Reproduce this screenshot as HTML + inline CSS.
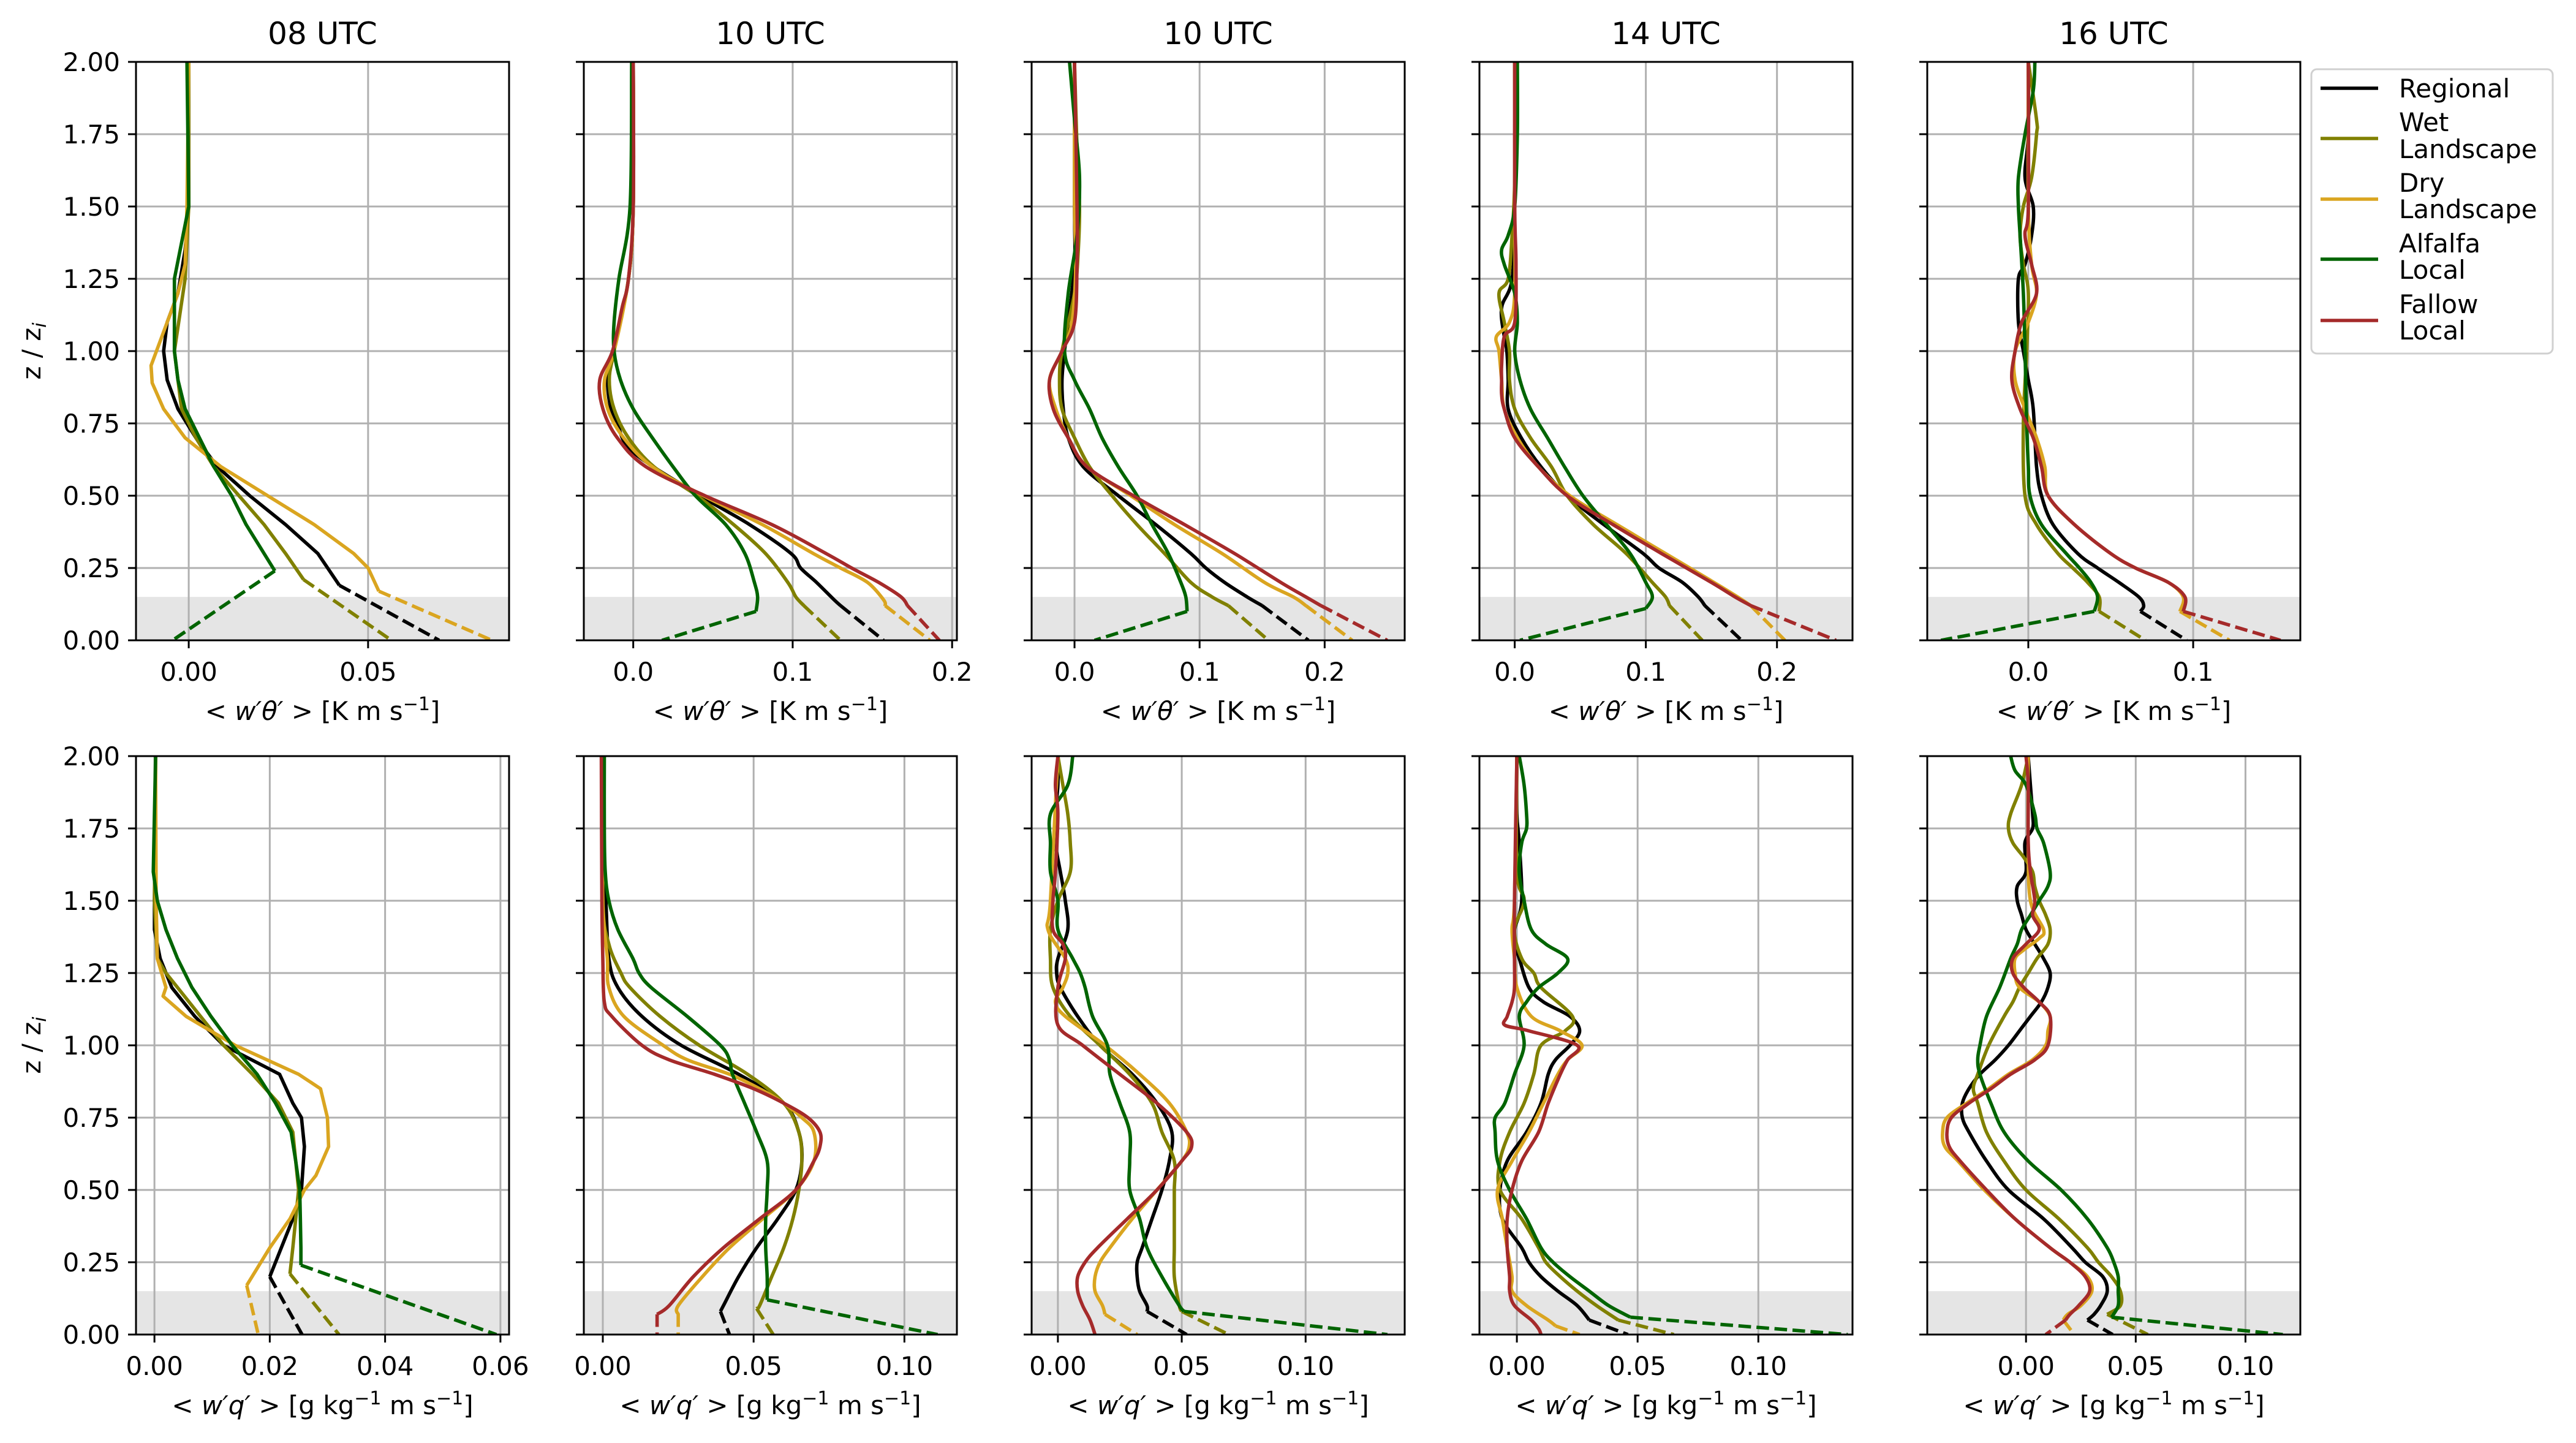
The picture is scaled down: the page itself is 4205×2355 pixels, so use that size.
<!DOCTYPE html>
<html><head><meta charset="utf-8">
<style>
html,body{margin:0;padding:0;background:#fff;}
svg{display:block;font-family:"DejaVu Sans","Liberation Sans",sans-serif;}
</style></head>
<body>
<svg id="fig" xmlns="http://www.w3.org/2000/svg" width="4205" height="2355" viewBox="0 0 4205 2355">
<rect x="0" y="0" width="4205" height="2355" fill="#fff"/>
<g id="legend">
  <rect x="3773" y="113" width="394" height="464" rx="9" fill="#fff" stroke="#d0d0d0" stroke-width="3"/>
  <g><line x1="3788" y1="144" x2="3882" y2="144" stroke="#000" stroke-width="5.6"/><text x="3916" y="159" font-size="42">Regional</text></g>
  <g><line x1="3788" y1="226" x2="3882" y2="226" stroke="#808000" stroke-width="5.6"/><text x="3916" y="214" font-size="42">Wet</text><text x="3916" y="258" font-size="42">Landscape</text></g>
  <g><line x1="3788" y1="325" x2="3882" y2="325" stroke="#daa520" stroke-width="5.6"/><text x="3916" y="313" font-size="42">Dry</text><text x="3916" y="356" font-size="42">Landscape</text></g>
  <g><line x1="3788" y1="423" x2="3882" y2="423" stroke="#006400" stroke-width="5.6"/><text x="3916" y="412" font-size="42">Alfalfa</text><text x="3916" y="455" font-size="42">Local</text></g>
  <g><line x1="3788" y1="523" x2="3882" y2="523" stroke="#a52a2a" stroke-width="5.6"/><text x="3916" y="511" font-size="42">Fallow</text><text x="3916" y="554" font-size="42">Local</text></g>
</g>
</svg>
<script>
// ---------- data ----------
const panelTitles = ["08 UTC","10 UTC","10 UTC","14 UTC","16 UTC"];
const yTicks = [0,0.25,0.5,0.75,1.0,1.25,1.5,1.75,2.0];
const shadeTop = 0.15;
const topXRanges = [[-0.0147,0.0893],[-0.031,0.203],[-0.0343,0.264],[-0.0269,0.2576],[-0.0613,0.165]];
const topXTicks = [[0,0.05],[0,0.1,0.2],[0,0.1,0.2],[0,0.1,0.2],[0,0.1]];
const topTickDigits = [2,1,1,1,1];
const botXRanges = [[-0.0032,0.0615],[-0.0063,0.1174],[-0.0106,0.140],[-0.0155,0.139],[-0.045,0.125]];
const botXTicks = [[0,0.02,0.04,0.06],[0,0.05,0.1],[0,0.05,0.1],[0,0.05,0.1],[0,0.05,0.1]];
const botTickDigits = [2,2,2,2,2];
const seriesNames = ["regional","wet-landscape","dry-landscape","alfalfa-local","fallow-local"];
const seriesColors = ["#000000","#808000","#daa520","#006400","#a52a2a"];

const t1Regional = [[2,0],[1.5,0],[1.35,-0.001],[1.2,-0.003],[1.1,-0.006],[1.0,-0.007],[0.9,-0.006],[0.8,-0.003],[0.7,0.002],[0.6,0.008],[0.5,0.017],[0.4,0.027],[0.3,0.036],[0.19,0.042]];
const t1Wet = [[2,0],[1.5,0],[1.25,-0.001],[1.0,-0.004],[0.9,-0.003],[0.8,-0.002],[0.7,0.002],[0.6,0.007],[0.5,0.014],[0.4,0.021],[0.3,0.027],[0.21,0.032]];
const t1Dry = [[2,0],[1.5,-0.0005],[1.3,-0.001],[1.2,-0.003],[1.1,-0.006],[1.0,-0.009],[0.95,-0.0105],[0.89,-0.0102],[0.8,-0.007],[0.7,-0.001],[0.6,0.009],[0.5,0.022],[0.4,0.035],[0.3,0.046],[0.25,0.05],[0.17,0.053]];
const t1Alfalfa = [[2,-0.0005],[1.5,0],[1.25,-0.004],[1.0,-0.004],[0.9,-0.003],[0.8,-0.001],[0.7,0.003],[0.6,0.007],[0.5,0.012],[0.4,0.016],[0.33,0.0195],[0.24,0.024]];
const t1Ground = [0.0698,0.0565,0.0845,-0.0045,null];

const t2Regional = [[2,0],[1.5,0],[1.25,-0.003],[1.0,-0.012],[0.9,-0.016],[0.8,-0.014],[0.75,-0.01],[0.65,0],[0.5,0.042],[0.4,0.073],[0.3,0.099],[0.25,0.105],[0.2,0.115],[0.14,0.126],[0.12,0.13]];
const t2Wet = [[2,0],[1.5,0],[1.25,-0.003],[1.0,-0.012],[0.9,-0.015],[0.8,-0.012],[0.7,-0.003],[0.6,0.013],[0.5,0.04],[0.4,0.063],[0.3,0.083],[0.2,0.097],[0.15,0.102],[0.12,0.107]];
const t2Dry = [[2,0],[1.5,0],[1.25,-0.003],[1.0,-0.012],[0.9,-0.018],[0.8,-0.016],[0.7,-0.006],[0.6,0.012],[0.5,0.044],[0.4,0.081],[0.3,0.113],[0.25,0.13],[0.2,0.147],[0.14,0.157],[0.12,0.158]];
const t2Alfalfa = [[2,-0.001],[1.5,-0.002],[1.25,-0.009],[1.1,-0.012],[1.0,-0.012],[0.9,-0.008],[0.8,0],[0.7,0.012],[0.6,0.025],[0.5,0.039],[0.4,0.058],[0.3,0.07],[0.2,0.076],[0.15,0.078],[0.1,0.077]];
const t2Fallow = [[2,0],[1.5,0],[1.25,-0.003],[1.15,-0.007],[1.0,-0.013],[0.9,-0.021],[0.8,-0.019],[0.7,-0.01],[0.6,0.008],[0.5,0.045],[0.4,0.087],[0.3,0.121],[0.25,0.137],[0.2,0.154],[0.15,0.168],[0.12,0.172]];
const t2Ground = [0.157,0.130,0.186,0.018,0.192];

const t3Regional = [[2,0],[1.5,0],[1.3,0],[1.1,-0.005],[1.0,-0.008],[0.9,-0.01],[0.8,-0.009],[0.7,-0.005],[0.6,0.007],[0.5,0.035],[0.4,0.065],[0.3,0.093],[0.25,0.105],[0.2,0.12],[0.15,0.138],[0.12,0.15]];
const t3Wet = [[2,0],[1.7,0.002],[1.5,0.004],[1.35,0.003],[1.2,0],[1.0,-0.01],[0.9,-0.012],[0.8,-0.01],[0.7,0],[0.6,0.012],[0.5,0.03],[0.4,0.05],[0.3,0.072],[0.2,0.093],[0.15,0.11],[0.12,0.123]];
const t3Dry = [[2,0],[1.5,0],[1.3,0.001],[1.1,-0.002],[1.0,-0.01],[0.9,-0.02],[0.8,-0.015],[0.7,-0.005],[0.6,0.01],[0.5,0.045],[0.4,0.08],[0.3,0.118],[0.2,0.152],[0.15,0.175],[0.12,0.185]];
const t3Alfalfa = [[2,-0.004],[1.8,0],[1.6,0.004],[1.4,0.002],[1.2,-0.005],[1.0,-0.008],[0.9,0],[0.8,0.012],[0.7,0.022],[0.6,0.035],[0.5,0.05],[0.4,0.062],[0.3,0.075],[0.2,0.085],[0.15,0.089],[0.1,0.09]];
const t3Fallow = [[2,0],[1.5,0.002],[1.3,0.002],[1.1,0],[1.0,-0.01],[0.9,-0.02],[0.8,-0.017],[0.7,-0.005],[0.6,0.01],[0.5,0.047],[0.4,0.088],[0.3,0.128],[0.2,0.165],[0.15,0.185],[0.12,0.197]];
const t3Ground = [0.187,0.155,0.222,0.016,0.25];

const t4Regional = [[2,0],[1.5,0],[1.25,-0.002],[1.15,-0.01],[1.05,-0.008],[1.0,-0.006],[0.9,-0.005],[0.8,-0.005],[0.7,0.005],[0.6,0.02],[0.5,0.04],[0.4,0.068],[0.3,0.098],[0.25,0.11],[0.2,0.128],[0.15,0.14],[0.12,0.145]];
const t4Wet = [[2,0],[1.6,0],[1.4,-0.002],[1.25,-0.005],[1.2,-0.012],[1.1,-0.008],[1.0,-0.004],[0.9,-0.004],[0.8,0],[0.7,0.012],[0.6,0.028],[0.5,0.04],[0.4,0.06],[0.3,0.085],[0.2,0.105],[0.15,0.115],[0.12,0.118]];
const t4Dry = [[2,0],[1.5,0],[1.2,0],[1.1,-0.004],[1.05,-0.014],[1.0,-0.012],[0.9,-0.01],[0.8,-0.008],[0.7,0.002],[0.6,0.018],[0.5,0.042],[0.4,0.078],[0.3,0.115],[0.2,0.152],[0.15,0.17],[0.12,0.18]];
const t4Alfalfa = [[2,0.002],[1.75,0.002],[1.5,0],[1.4,-0.005],[1.35,-0.01],[1.3,-0.008],[1.2,0],[1.1,0.002],[1.0,0],[0.9,0.004],[0.8,0.012],[0.7,0.025],[0.6,0.038],[0.5,0.052],[0.4,0.07],[0.3,0.088],[0.2,0.1],[0.15,0.105],[0.11,0.1]];
const t4Fallow = [[2,0],[1.5,0],[1.3,0.001],[1.1,0],[1.05,-0.008],[0.95,-0.01],[0.9,-0.01],[0.85,-0.01],[0.8,-0.008],[0.7,0],[0.6,0.018],[0.5,0.04],[0.4,0.075],[0.3,0.112],[0.2,0.15],[0.15,0.168],[0.12,0.18]];
const t4Ground = [0.173,0.143,0.206,0.004,0.245];

const t5Regional = [[2,0],[1.75,0],[1.6,-0.002],[1.5,0.003],[1.4,0.002],[1.3,-0.002],[1.25,-0.006],[1.1,-0.006],[1.0,-0.003],[0.9,0],[0.8,0.003],[0.6,0.005],[0.5,0.008],[0.4,0.015],[0.3,0.03],[0.25,0.042],[0.2,0.055],[0.15,0.067],[0.12,0.07],[0.1,0.068]];
const t5Wet = [[2,0],[1.8,0.005],[1.75,0.005],[1.6,0.002],[1.5,-0.003],[1.4,-0.005],[1.3,-0.003],[1.2,0],[1.0,-0.001],[0.75,-0.003],[0.5,-0.002],[0.4,0.005],[0.3,0.018],[0.25,0.027],[0.2,0.036],[0.15,0.043],[0.1,0.043]];
const t5Dry = [[2,0],[1.5,0],[1.3,0.002],[1.2,0.005],[1.1,0],[1.0,-0.008],[0.9,-0.008],[0.8,-0.002],[0.7,0.005],[0.6,0.01],[0.5,0.012],[0.4,0.028],[0.3,0.05],[0.25,0.065],[0.2,0.085],[0.15,0.094],[0.1,0.092]];
const t5Alfalfa = [[2,0.004],[1.9,0.003],[1.75,-0.002],[1.6,-0.006],[1.5,-0.006],[1.4,-0.005],[1.2,-0.003],[1.0,-0.002],[0.75,-0.001],[0.6,0],[0.5,0.001],[0.4,0.008],[0.3,0.023],[0.25,0.031],[0.2,0.038],[0.15,0.042],[0.1,0.04]];
const t5Fallow = [[2,0],[1.5,0],[1.4,-0.002],[1.3,0.002],[1.2,0.005],[1.1,-0.004],[1.0,-0.008],[0.9,-0.01],[0.8,-0.005],[0.7,0.003],[0.6,0.008],[0.5,0.012],[0.4,0.028],[0.3,0.05],[0.25,0.065],[0.2,0.085],[0.15,0.095],[0.1,0.094]];
const t5Ground = [0.096,0.071,0.122,-0.053,0.153];

const b1Regional = [[2,0.0002],[1.5,0],[1.4,0],[1.3,0.001],[1.2,0.003],[1.1,0.007],[1.0,0.012],[0.9,0.0217],[0.8,0.024],[0.75,0.0255],[0.65,0.026],[0.5,0.0255],[0.4,0.024],[0.3,0.022],[0.2,0.02]];
const b1Wet = [[2,0.0002],[1.5,0],[1.3,0.0005],[1.25,0.002],[1.2,0.004],[1.1,0.008],[1.0,0.012],[0.9,0.017],[0.8,0.0215],[0.7,0.024],[0.6,0.0245],[0.5,0.025],[0.4,0.0245],[0.3,0.024],[0.21,0.0235]];
const b1Dry = [[2,0.0002],[1.5,0.0003],[1.3,0.0005],[1.2,0.002],[1.17,0.0015],[1.1,0.0055],[1.0,0.014],[0.9,0.025],[0.85,0.0288],[0.75,0.030],[0.65,0.0302],[0.55,0.028],[0.5,0.026],[0.4,0.0235],[0.3,0.02],[0.17,0.016]];
const b1Alfalfa = [[2,0.0002],[1.6,-0.0002],[1.5,0.0005],[1.4,0.002],[1.3,0.004],[1.2,0.0065],[1.1,0.0098],[1.0,0.0135],[0.9,0.0178],[0.8,0.021],[0.7,0.0237],[0.6,0.0245],[0.5,0.0252],[0.4,0.0253],[0.3,0.0254],[0.24,0.0254]];
const b1Ground = [0.0256,0.032,0.018,0.0593,null];

const b2Regional = [[2,0],[1.6,0],[1.5,0.001],[1.3,0.002],[1.2,0.005],[1.1,0.013],[1.0,0.026],[0.9,0.045],[0.8,0.06],[0.7,0.065],[0.6,0.066],[0.5,0.064],[0.4,0.058],[0.3,0.051],[0.2,0.045],[0.1,0.04],[0.08,0.039]];
const b2Wet = [[2,0],[1.5,0],[1.35,0.002],[1.25,0.006],[1.2,0.009],[1.1,0.019],[1.0,0.032],[0.9,0.048],[0.8,0.06],[0.7,0.065],[0.6,0.066],[0.5,0.065],[0.4,0.063],[0.3,0.06],[0.2,0.056],[0.1,0.052],[0.09,0.051]];
const b2Dry = [[2,0],[1.5,0],[1.3,0.0015],[1.2,0.002],[1.1,0.007],[1.0,0.02],[0.95,0.028],[0.9,0.042],[0.85,0.052],[0.8,0.06],[0.75,0.066],[0.7,0.07],[0.6,0.07],[0.5,0.064],[0.4,0.053],[0.3,0.042],[0.2,0.033],[0.1,0.025],[0.07,0.025]];
const b2Alfalfa = [[2,0.0005],[1.75,0.0005],[1.6,0.0008],[1.5,0.002],[1.4,0.005],[1.3,0.01],[1.25,0.012],[1.2,0.016],[1.1,0.028],[1.0,0.039],[0.95,0.042],[0.9,0.043],[0.8,0.047],[0.7,0.051],[0.6,0.0545],[0.5,0.0545],[0.4,0.054],[0.3,0.054],[0.2,0.0545],[0.12,0.0545]];
const b2Fallow = [[2,-0.0005],[1.5,-0.0003],[1.3,0],[1.15,0.0005],[1.1,0.003],[1.0,0.013],[0.95,0.022],[0.9,0.037],[0.85,0.05],[0.8,0.06],[0.75,0.068],[0.7,0.072],[0.65,0.072],[0.6,0.07],[0.5,0.064],[0.4,0.052],[0.3,0.04],[0.2,0.03],[0.1,0.022],[0.07,0.018]];
const b2Ground = [0.042,0.0565,0.025,0.111,0.018];

const b3Regional = [[2,0],[1.9,0],[1.8,-0.001],[1.7,-0.001],[1.6,0.001],[1.5,0.003],[1.4,0.004],[1.3,0],[1.25,-0.0005],[1.2,0.001],[1.1,0.008],[1.0,0.017],[0.9,0.03],[0.8,0.04],[0.7,0.046],[0.6,0.045],[0.5,0.042],[0.4,0.038],[0.3,0.034],[0.25,0.032],[0.2,0.032],[0.15,0.033],[0.1,0.036],[0.08,0.036]];
const b3Wet = [[2,0],[1.9,0.002],[1.8,0.004],[1.7,0.005],[1.6,0.005],[1.5,0],[1.4,-0.003],[1.3,-0.003],[1.2,-0.002],[1.1,0.005],[1.0,0.017],[0.9,0.029],[0.8,0.038],[0.7,0.042],[0.6,0.047],[0.5,0.047],[0.4,0.047],[0.3,0.047],[0.2,0.047],[0.1,0.049],[0.08,0.05]];
const b3Dry = [[2,0],[1.5,-0.003],[1.4,-0.004],[1.3,0.003],[1.25,0.004],[1.2,0.002],[1.15,-0.001],[1.1,0.003],[1.0,0.019],[0.9,0.033],[0.8,0.045],[0.7,0.052],[0.65,0.053],[0.6,0.05],[0.5,0.04],[0.4,0.03],[0.3,0.021],[0.25,0.017],[0.2,0.015],[0.15,0.015],[0.1,0.018],[0.07,0.019]];
const b3Alfalfa = [[2,0.006],[1.9,0.004],[1.8,-0.003],[1.7,-0.003],[1.6,-0.003],[1.5,0],[1.4,0],[1.3,0.006],[1.25,0.009],[1.2,0.011],[1.1,0.014],[1.0,0.02],[0.9,0.021],[0.8,0.025],[0.7,0.029],[0.6,0.029],[0.5,0.029],[0.4,0.033],[0.3,0.036],[0.2,0.042],[0.1,0.049],[0.08,0.051]];
const b3Fallow = [[2,0],[1.9,-0.001],[1.8,0],[1.6,-0.001],[1.5,-0.002],[1.4,-0.002],[1.35,0.002],[1.3,0.003],[1.2,0],[1.07,0],[1.0,0.01],[0.9,0.025],[0.8,0.04],[0.7,0.052],[0.65,0.054],[0.6,0.05],[0.5,0.04],[0.4,0.028],[0.3,0.016],[0.25,0.011],[0.2,0.008],[0.15,0.008],[0.1,0.01],[0.05,0.013],[0,0.015]];
const b3Ground = [0.052,0.069,0.032,0.133,null];

const b4Regional = [[2,0],[1.8,0],[1.7,0.001],[1.5,0.002],[1.4,-0.001],[1.35,-0.001],[1.3,0.001],[1.2,0.005],[1.15,0.011],[1.1,0.022],[1.05,0.026],[1.0,0.022],[0.95,0.016],[0.9,0.013],[0.8,0.01],[0.7,0.004],[0.6,-0.004],[0.5,-0.007],[0.4,-0.006],[0.3,0.002],[0.25,0.005],[0.2,0.01],[0.15,0.017],[0.1,0.025],[0.05,0.03]];
const b4Wet = [[2,0],[1.6,0],[1.5,0.003],[1.4,-0.001],[1.3,0.002],[1.25,0.007],[1.2,0.01],[1.1,0.023],[1.05,0.02],[1.0,0.01],[0.9,0.007],[0.8,0.003],[0.7,-0.003],[0.6,-0.007],[0.5,-0.007],[0.4,0.002],[0.3,0.009],[0.25,0.012],[0.2,0.018],[0.15,0.025],[0.1,0.033],[0.05,0.042]];
const b4Dry = [[2,0],[1.5,-0.001],[1.4,-0.002],[1.3,-0.001],[1.2,0],[1.1,0.006],[1.05,0.018],[1.0,0.027],[0.95,0.021],[0.9,0.017],[0.8,0.011],[0.7,0.005],[0.6,-0.002],[0.5,-0.008],[0.4,-0.006],[0.3,-0.004],[0.2,-0.002],[0.15,-0.002],[0.1,0.004],[0.05,0.013],[0.03,0.016]];
const b4Alfalfa = [[2,0.001],[1.9,0.003],[1.8,0.004],[1.75,0.004],[1.7,0.002],[1.6,0.001],[1.5,0.003],[1.4,0.006],[1.35,0.012],[1.3,0.021],[1.25,0.017],[1.2,0.009],[1.15,0.004],[1.1,0.001],[1.0,0.003],[0.9,-0.001],[0.8,-0.005],[0.75,-0.009],[0.7,-0.009],[0.6,-0.008],[0.5,-0.003],[0.4,0.004],[0.3,0.01],[0.25,0.015],[0.2,0.022],[0.15,0.03],[0.1,0.038],[0.06,0.047]];
const b4Fallow = [[2,0],[1.5,-0.001],[1.3,-0.001],[1.2,-0.001],[1.15,-0.002],[1.1,-0.004],[1.07,-0.005],[1.05,0.005],[1.0,0.025],[0.95,0.021],[0.9,0.018],[0.8,0.013],[0.7,0.009],[0.6,0.002],[0.5,-0.002],[0.4,-0.004],[0.3,-0.004],[0.2,-0.003],[0.15,-0.003],[0.1,-0.001],[0.05,0.006],[0.02,0.009],[0,0.01]];
const b4Ground = [0.046,0.065,0.026,0.137,null];

const b5Regional = [[2,0.001],[1.9,0.002],[1.8,0.003],[1.75,0.003],[1.7,-0.0005],[1.6,0],[1.55,-0.004],[1.5,-0.004],[1.45,-0.002],[1.4,0],[1.35,0.004],[1.3,0.008],[1.25,0.011],[1.2,0.01],[1.15,0.007],[1.1,0.002],[1.05,-0.003],[1.0,-0.008],[0.95,-0.014],[0.9,-0.021],[0.85,-0.026],[0.8,-0.029],[0.75,-0.029],[0.7,-0.026],[0.6,-0.018],[0.5,-0.008],[0.4,0.008],[0.3,0.021],[0.25,0.027],[0.2,0.035],[0.15,0.037],[0.1,0.034],[0.07,0.031],[0.05,0.028]];
const b5Wet = [[2,0.001],[1.9,-0.002],[1.8,-0.007],[1.75,-0.008],[1.7,-0.006],[1.65,-0.001],[1.6,0.003],[1.55,0.004],[1.5,0.006],[1.45,0.009],[1.4,0.011],[1.35,0.01],[1.3,0.005],[1.25,0.001],[1.2,-0.003],[1.15,-0.006],[1.1,-0.01],[1.0,-0.017],[0.9,-0.022],[0.85,-0.024],[0.8,-0.022],[0.7,-0.018],[0.6,-0.01],[0.5,0],[0.4,0.015],[0.3,0.028],[0.25,0.033],[0.2,0.039],[0.15,0.043],[0.1,0.043],[0.07,0.037]];
const b5Dry = [[2,0.001],[1.7,0.001],[1.5,0.002],[1.4,0.008],[1.37,0.006],[1.33,-0.001],[1.3,-0.005],[1.25,-0.005],[1.2,-0.003],[1.15,0.006],[1.1,0.011],[1.05,0.01],[1.0,0.009],[0.95,0.003],[0.9,-0.008],[0.85,-0.017],[0.8,-0.027],[0.75,-0.036],[0.7,-0.038],[0.65,-0.037],[0.6,-0.031],[0.5,-0.019],[0.4,-0.005],[0.3,0.011],[0.25,0.02],[0.2,0.028],[0.15,0.03],[0.1,0.025],[0.07,0.019],[0.05,0.017]];
const b5Alfalfa = [[2,-0.007],[1.95,-0.005],[1.9,0],[1.8,0.004],[1.75,0.005],[1.7,0.008],[1.6,0.011],[1.55,0.01],[1.5,0.006],[1.45,0.002],[1.4,-0.002],[1.35,-0.004],[1.3,-0.007],[1.2,-0.012],[1.1,-0.018],[1.0,-0.021],[0.95,-0.022],[0.9,-0.021],[0.8,-0.016],[0.7,-0.01],[0.6,0.001],[0.5,0.016],[0.4,0.028],[0.3,0.037],[0.25,0.04],[0.2,0.042],[0.15,0.042],[0.1,0.042],[0.06,0.039]];
const b5Fallow = [[2,0],[1.9,0.001],[1.7,0.001],[1.6,0.002],[1.5,0.004],[1.45,0.003],[1.4,0.006],[1.35,0],[1.3,-0.006],[1.25,-0.006],[1.2,-0.001],[1.15,0.006],[1.1,0.011],[1.0,0.01],[0.95,0.004],[0.9,-0.007],[0.85,-0.016],[0.8,-0.026],[0.75,-0.034],[0.7,-0.036],[0.65,-0.035],[0.6,-0.03],[0.5,-0.018],[0.4,-0.005],[0.3,0.011],[0.25,0.02],[0.2,0.027],[0.15,0.029],[0.1,0.024],[0.07,0.02],[0.05,0.018]];
const b5Ground = [0.0395,0.0555,0.022,0.117,0.009];

// ---------- layout ----------
const SVGNS = "http://www.w3.org/2000/svg";
const fig = document.getElementById("fig");
const legendNode = document.getElementById("legend");
const panelLefts = [222,953,1684,2415,3146];
const panelW = 609, panelH = 944;
const rowTops = [101,1234];
const FS = 42;

function el(tag, attrs, parent){
  const e = document.createElementNS(SVGNS, tag);
  for (const k in attrs) e.setAttribute(k, attrs[k]);
  if (parent) parent.appendChild(e);
  else fig.insertBefore(e, legendNode);
  return e;
}
function smoothPath(pts, linear){
  if (pts.length < 2) return "";
  let d = "M" + pts[0][0].toFixed(1) + "," + pts[0][1].toFixed(1);
  if (linear){ for (let i=1;i<pts.length;i++) d += "L"+pts[i][0].toFixed(1)+","+pts[i][1].toFixed(1); return d; }
  for (let i=0;i<pts.length-1;i++){
    const p0 = pts[Math.max(0,i-1)], p1 = pts[i], p2 = pts[i+1], p3 = pts[Math.min(pts.length-1,i+2)];
    const c1x = p1[0] + (p2[0]-p0[0])/6, c1y = p1[1] + (p2[1]-p0[1])/6;
    const c2x = p2[0] - (p3[0]-p1[0])/6, c2y = p2[1] - (p3[1]-p1[1])/6;
    d += "C"+c1x.toFixed(1)+","+c1y.toFixed(1)+" "+c2x.toFixed(1)+","+c2y.toFixed(1)+" "+p2[0].toFixed(1)+","+p2[1].toFixed(1);
  }
  return d;
}

function xLabel(g, cx, y, kind){
  const t = el("text", {x:cx, y:y, "font-size":FS, "text-anchor":"middle"}, g);
  
  
  const parts = kind === "theta"
    ? [["< ",""],["w′θ′","italic"],[" >  [K m s",""],["−1","sup"],["]",""]]
    : [["< ",""],["w′q′","italic"],[" >  [g kg",""],["−1","sup"],[" m s",""],["−1","sup"],["]",""]];
  let prevSup = false;
  for (const [txt, st] of parts){
    const s = document.createElementNS(SVGNS, "tspan");
    s.textContent = txt;
    if (st === "italic") s.setAttribute("font-style","italic");
    if (st === "sup"){ s.setAttribute("font-size","30"); s.setAttribute("dy","-16"); prevSup = true; }
    else if (prevSup){ s.setAttribute("dy","16"); prevSup = false; }
    t.appendChild(s);
  }
}

function drawPanel(row, col, range, ticks, digits, seriesList, ground, linear){
  const L = panelLefts[col], T = rowTops[row], R = L + panelW, B = T + panelH;
  const xs = v => L + (v - range[0]) / (range[1]-range[0]) * panelW;
  const ys = z => B - z / 2 * panelH;
  const g = el("g", {});
  
  
  const sh = el("rect", {x:L, y:ys(shadeTop), width:panelW, height:ys(0)-ys(shadeTop), fill:"#e5e5e5"}, g);
  
  
  for (const z of yTicks){
    const gl = el("line", {x1:L, x2:R, y1:ys(z), y2:ys(z), stroke:"#b0b0b0", "stroke-width":"3"}, g);
    
    
  }
  for (const v of ticks){
    const gl = el("line", {x1:xs(v), x2:xs(v), y1:T, y2:B, stroke:"#b0b0b0", "stroke-width":"3"}, g);
    
    
  }
  const cid = "clip"+row+"_"+col;
  const cp = el("clipPath", {id:cid}, g);
  const cr = document.createElementNS(SVGNS, "rect");
  cr.setAttribute("x", L); cr.setAttribute("y", T); cr.setAttribute("width", panelW); cr.setAttribute("height", panelH);
  cp.appendChild(cr);
  const lines = el("g", {"clip-path":"url(#"+cid+")"}, g);
  
  
  seriesList.forEach((s, i) => {
    if (!s) return;
    const pts = s.map(p => [xs(p[1]), ys(p[0])]);
    const path = el("path", {d:smoothPath(pts, linear), fill:"none", stroke:seriesColors[i], "stroke-width":"5.6", "stroke-linejoin":"round"}, lines);
    
    
    if (ground[i] !== null && ground[i] !== undefined){
      const last = s[s.length-1];
      const dl = el("line", {x1:xs(last[1]), y1:ys(last[0]), x2:xs(ground[i]), y2:ys(0), stroke:seriesColors[i], "stroke-width":"5.6", "stroke-dasharray":"20.6 8.9"}, lines);
      
      
    }
  });
  const fr = el("rect", {x:L, y:T, width:panelW, height:panelH, fill:"none", stroke:"#000", "stroke-width":"3"}, g);
  
  
  for (const z of yTicks){
    const tk = el("line", {x1:L-13, x2:L, y1:ys(z), y2:ys(z), stroke:"#000", "stroke-width":"3"}, g);
    
    
    if (col === 0){
      const tl = el("text", {x:L-26, y:ys(z)+15, "font-size":FS, "text-anchor":"end"}, g);
      tl.textContent = z.toFixed(2);
      
      
    }
  }
  for (const v of ticks){
    const tk = el("line", {x1:xs(v), x2:xs(v), y1:B, y2:B+13, stroke:"#000", "stroke-width":"3"}, g);
    
    
    const tl = el("text", {x:xs(v), y:B+66, "font-size":FS, "text-anchor":"middle"}, g);
    tl.textContent = v.toFixed(digits);
    
    
  }
  xLabel(g, L + panelW/2, B + 130, row === 0 ? "theta" : "q");
  if (row === 0){
    const tt = el("text", {x:L + panelW/2, y:T-29, "font-size":"50", "text-anchor":"middle"}, g);
    tt.textContent = panelTitles[col];
    
    
  }
  if (col === 0){
    const cy = T + panelH/2;
    const yl = el("text", {x:0, y:0, "font-size":FS, "text-anchor":"middle", transform:"translate(66,"+cy+") rotate(-90)"}, g);
    
    
    const a = document.createElementNS(SVGNS, "tspan"); a.textContent = "z / z"; yl.appendChild(a);
    const b = document.createElementNS(SVGNS, "tspan"); b.textContent = "i"; b.setAttribute("font-size","30"); b.setAttribute("font-style","italic"); b.setAttribute("dy","9"); yl.appendChild(b);
  }
}

drawPanel(0,0,topXRanges[0],topXTicks[0],topTickDigits[0],[t1Regional,t1Wet,t1Dry,t1Alfalfa,null],t1Ground,true);
drawPanel(0,1,topXRanges[1],topXTicks[1],topTickDigits[1],[t2Regional,t2Wet,t2Dry,t2Alfalfa,t2Fallow],t2Ground,false);
drawPanel(0,2,topXRanges[2],topXTicks[2],topTickDigits[2],[t3Regional,t3Wet,t3Dry,t3Alfalfa,t3Fallow],t3Ground,false);
drawPanel(0,3,topXRanges[3],topXTicks[3],topTickDigits[3],[t4Regional,t4Wet,t4Dry,t4Alfalfa,t4Fallow],t4Ground,false);
drawPanel(0,4,topXRanges[4],topXTicks[4],topTickDigits[4],[t5Regional,t5Wet,t5Dry,t5Alfalfa,t5Fallow],t5Ground,false);
drawPanel(1,0,botXRanges[0],botXTicks[0],botTickDigits[0],[b1Regional,b1Wet,b1Dry,b1Alfalfa,null],b1Ground,true);
drawPanel(1,1,botXRanges[1],botXTicks[1],botTickDigits[1],[b2Regional,b2Wet,b2Dry,b2Alfalfa,b2Fallow],b2Ground,false);
drawPanel(1,2,botXRanges[2],botXTicks[2],botTickDigits[2],[b3Regional,b3Wet,b3Dry,b3Alfalfa,b3Fallow],b3Ground,false);
drawPanel(1,3,botXRanges[3],botXTicks[3],botTickDigits[3],[b4Regional,b4Wet,b4Dry,b4Alfalfa,b4Fallow],b4Ground,false);
drawPanel(1,4,botXRanges[4],botXTicks[4],botTickDigits[4],[b5Regional,b5Wet,b5Dry,b5Alfalfa,b5Fallow],b5Ground,false);
</script>
</body></html>
